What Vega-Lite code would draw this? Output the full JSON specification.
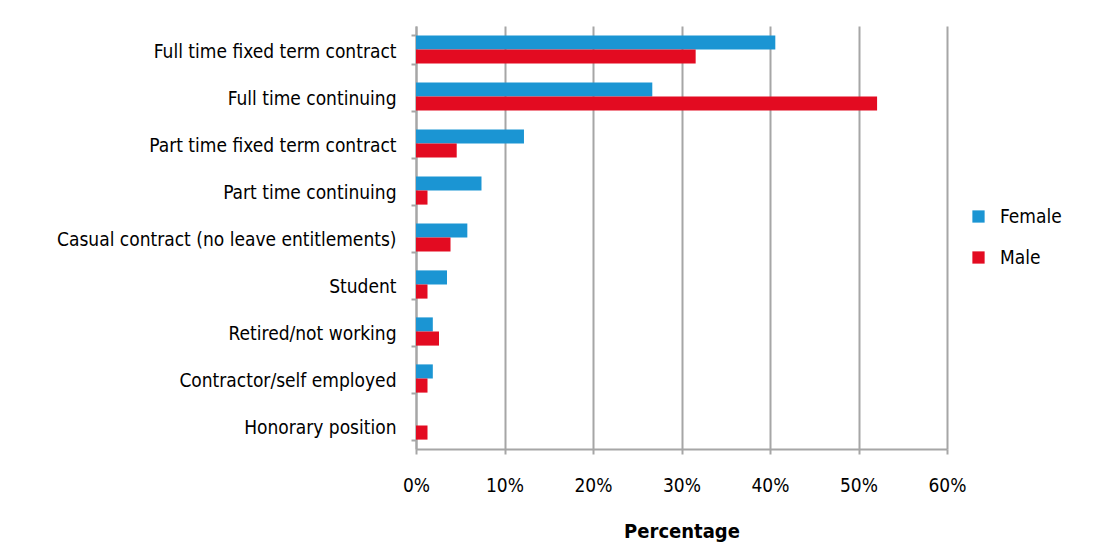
{
  "$schema": "https://vega.github.io/schema/vega-lite/v6.json",
  "autosize": "none",
  "width": 531,
  "height": 423,
  "padding": {"left": 416, "top": 26, "right": 156, "bottom": 98},
  "background": "white",
  "data": {"values": [
    {"status": "Full time fixed term contract", "gender": "Female", "pct": 0.406},
    {"status": "Full time fixed term contract", "gender": "Male", "pct": 0.316},
    {"status": "Full time continuing", "gender": "Female", "pct": 0.267},
    {"status": "Full time continuing", "gender": "Male", "pct": 0.521},
    {"status": "Part time fixed term contract", "gender": "Female", "pct": 0.122},
    {"status": "Part time fixed term contract", "gender": "Male", "pct": 0.046},
    {"status": "Part time continuing", "gender": "Female", "pct": 0.074},
    {"status": "Part time continuing", "gender": "Male", "pct": 0.013},
    {"status": "Casual contract (no leave entitlements)", "gender": "Female", "pct": 0.058},
    {"status": "Casual contract (no leave entitlements)", "gender": "Male", "pct": 0.039},
    {"status": "Student", "gender": "Female", "pct": 0.035},
    {"status": "Student", "gender": "Male", "pct": 0.013},
    {"status": "Retired/not working", "gender": "Female", "pct": 0.019},
    {"status": "Retired/not working", "gender": "Male", "pct": 0.026},
    {"status": "Contractor/self employed", "gender": "Female", "pct": 0.019},
    {"status": "Contractor/self employed", "gender": "Male", "pct": 0.013},
    {"status": "Honorary position", "gender": "Female", "pct": 0.0},
    {"status": "Honorary position", "gender": "Male", "pct": 0.013}
  ]},
  "mark": {"type": "bar"},
  "encoding": {
    "y": {
      "field": "status", "type": "nominal", "sort": null,
      "scale": {"paddingInner": 0.4, "paddingOuter": 0.2},
      "axis": {
        "title": null, "labelFont": "DejaVu Sans Condensed", "labelFontSize": 19,
        "labelColor": "#000000", "labelPadding": 15, "labelOffset": 2, "tickSize": 5, "tickWidth": 2,
        "tickColor": "#a6a6a6", "domainColor": "#a6a6a6", "domainWidth": 2,
        "labelLimit": 400, "tickBand": "extent"
      }
    },
    "yOffset": {"field": "gender", "type": "nominal", "sort": ["Female", "Male"]},
    "x": {
      "field": "pct", "type": "quantitative",
      "scale": {"domain": [0, 0.6], "nice": false},
      "axis": {
        "format": "%", "values": [0, 0.1, 0.2, 0.3, 0.4, 0.5, 0.6],
        "title": "Percentage", "titleFont": "DejaVu Sans Condensed", "titleFontSize": 20,
        "titleFontWeight": "bold", "titleColor": "#000000", "titlePadding": 26,
        "labelFont": "DejaVu Sans Condensed", "labelFontSize": 19, "labelColor": "#000000",
        "labelPadding": 22, "labelFlush": false, "tickSize": 5, "tickWidth": 2, "tickColor": "#a6a6a6",
        "domainColor": "#a6a6a6", "domainWidth": 2,
        "grid": true, "gridColor": "#a6a6a6", "gridWidth": 2
      }
    },
    "color": {
      "field": "gender", "type": "nominal",
      "scale": {"domain": ["Female", "Male"], "range": ["#1b95d3", "#e30b21"]},
      "legend": {
        "title": null, "orient": "none", "legendX": 553, "legendY": 181,
        "symbolType": "square", "symbolSize": 150, "symbolStrokeWidth": 0,
        "labelFont": "DejaVu Sans Condensed", "labelFontSize": 19, "labelColor": "#000000",
        "rowPadding": 21, "labelOffset": 12
      }
    }
  },
  "config": {"view": {"stroke": null}}
}
